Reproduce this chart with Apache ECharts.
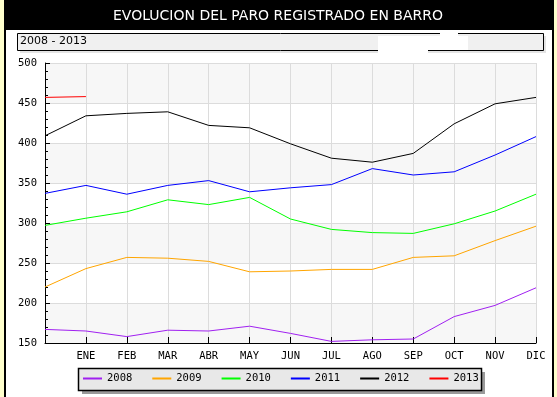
<!DOCTYPE html>
<html>
<head>
<meta charset="utf-8">
<script src="https://cdn.jsdelivr.net/npm/echarts@6/dist/echarts.min.js"></script>
<style>
  html, body { margin: 0; padding: 0; background: #ffffcc; }
  #chart { width: 557px; height: 397px; }
</style>
</head>
<body>
<div id="chart"></div>
<script>
// meses (el primero es el dato de diciembre del año anterior, sin etiqueta)
const months = ['', 'ENE', 'FEB', 'MAR', 'ABR', 'MAY', 'JUN', 'JUL', 'AGO', 'SEP', 'OCT', 'NOV', 'DIC']
const years = ['2008', '2009', '2010', '2011', '2012', '2013']
const colors = ['#a020f0', '#ffa500', '#00ff00', '#0000ff', '#000000', '#ff0000']

const paro2008 = [167, 165, 158, 166, 165, 171, 162, 152, 154, 155, 183, 197, 219]
const paro2009 = [220, 243, 257, 256, 252, 239, 240, 242, 242, 257, 259, 278, 296]
const paro2010 = [297, 306, 314, 329, 323, 332, 305, 292, 288, 287, 299, 315, 336]
const paro2011 = [337, 347, 336, 347, 353, 339, 344, 348, 368, 360, 364, 385, 408]
const paro2012 = [409, 434, 437, 439, 422, 419, 399, 381, 376, 387, 424, 449, 457]
const paro2013 = [457, 458]

const yearData = [paro2008, paro2009, paro2010, paro2011, paro2012, paro2013]

const chart = echarts.init(document.getElementById('chart'))

const labelFont = { fontFamily: 'DejaVu Sans Mono', fontSize: 10.5, color: '#000' }

const option = {
    animation: false,
    backgroundColor: '#ffffcc',
    color: colors,
    title: {
        text: 'EVOLUCION DEL PARO REGISTRADO EN BARRO',
        left: 113,
        top: 9,
        padding: 0,
        textStyle: { fontFamily: 'DejaVu Sans', fontSize: 14, fontWeight: 'normal', color: '#fff' }
    },
    graphic: [
        // marco blanco
        { type: 'rect', z: -10, shape: { x: 5, y: 0, width: 548, height: 410 },
          style: { fill: '#fff', stroke: '#000', lineWidth: 2 } },
        // barra del título
        { type: 'rect', z: -9, shape: { x: 5, y: 0, width: 548, height: 30 },
          style: { fill: '#000' } },
        // caja del subtítulo
        { type: 'rect', z: -9, shape: { x: 20, y: 36, width: 526, height: 17 },
          style: { fill: '#e4e4e4' } },
        { type: 'rect', z: -8, shape: { x: 17.5, y: 33.5, width: 526, height: 17 },
          style: { fill: '#f0f0f0', stroke: '#000', lineWidth: 1 } },
        { type: 'text', z: -7, left: 20, top: 36,
          style: { text: '2008 - 2013', fontFamily: 'DejaVu Sans', fontSize: 11, fill: '#000' } },
        { type: 'rect', z: -6, shape: { x: 378, y: 36, width: 90, height: 14 }, style: { fill: '#fff' } },
        { type: 'rect', z: -6, shape: { x: 440, y: 32, width: 18, height: 6 }, style: { fill: '#fff' } },
        { type: 'rect', z: -6, shape: { x: 378, y: 48, width: 50, height: 5 }, style: { fill: '#fff' } },
        // caja de la leyenda
        { type: 'rect', z: -9, shape: { x: 82, y: 372, width: 403, height: 22 },
          style: { fill: '#9a9a9a' } },
        { type: 'rect', z: -8, shape: { x: 78.5, y: 368.5, width: 403, height: 22 },
          style: { fill: '#e8e8e8', stroke: '#000', lineWidth: 1.5 } }
    ],
    legend: {
        data: years,
        left: 83,
        top: 373,
        padding: 0,
        icon: 'rect',
        itemWidth: 19,
        itemHeight: 2,
        itemGap: 20,
        textStyle: labelFont
    },
    grid: {
        left: 45,
        right: 21,
        top: 63,
        bottom: 54
    },
    xAxis: {
        type: 'category',
        boundaryGap: false,
        data: months,
        axisLine: { lineStyle: { color: '#000', width: 1 } },
        axisTick: { inside: true, length: 6, lineStyle: { color: '#000' } },
        axisLabel: Object.assign({ margin: 8 }, labelFont),
        splitLine: { show: true, lineStyle: { color: '#dcdcdc' } }
    },
    yAxis: {
        type: 'value',
        min: 150,
        max: 500,
        interval: 50,
        axisLine: { show: true, lineStyle: { color: '#000', width: 1 } },
        axisTick: { show: true, inside: true, length: 5, lineStyle: { color: '#000' } },
        minorTick: { show: true, splitNumber: 5, length: 3, lineStyle: { color: '#000' } },
        axisLabel: Object.assign({ margin: 8 }, labelFont),
        splitLine: { show: true, lineStyle: { color: '#dcdcdc' } },
        splitArea: { show: true, areaStyle: { color: ['#f7f7f7', '#ffffff'] } }
    },
    series: years.map((y, i) => ({
        name: y,
        type: 'line',
        data: yearData[i],
        symbol: 'none',
        lineStyle: { width: 1 }
    }))
}

option && chart.setOption(option)
</script>
</body>
</html>
